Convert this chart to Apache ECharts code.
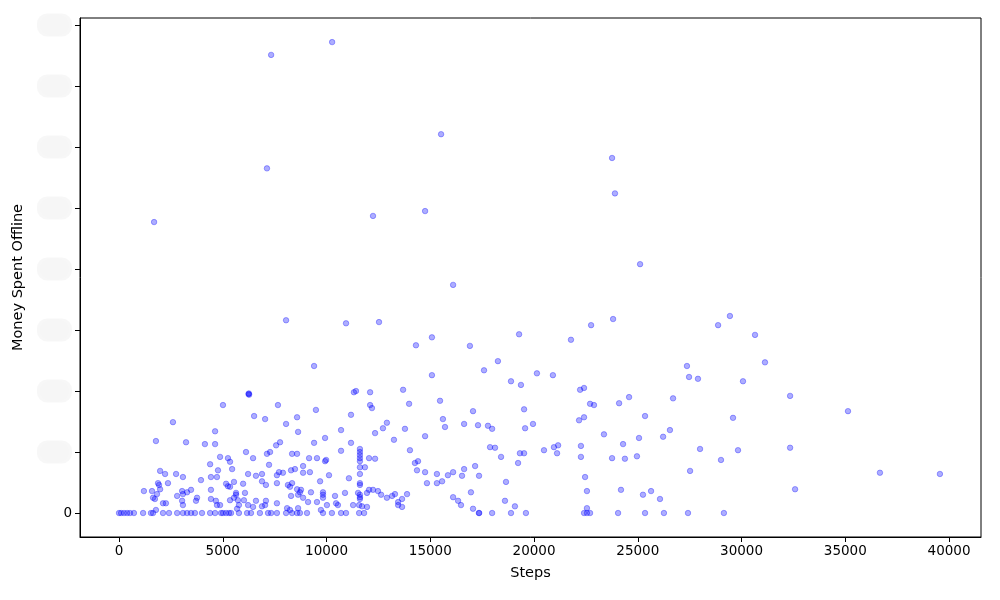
<!DOCTYPE html>
<html>
<head>
<meta charset="utf-8">
<script src="https://cdn.jsdelivr.net/npm/echarts@6/dist/echarts.min.js"></script>
<style>html,body{margin:0;padding:0;background:#fff;}#c{width:1000px;height:600px;}</style>
</head>
<body>
<div id="c"></div>
<script>
// Tick values
const xTicks = [0, 5000, 10000, 15000, 20000, 25000, 30000, 35000, 40000];
const yTicks = [0, 1000, 2000, 3000, 4000, 5000, 6000, 7000, 8000];

// [steps, money spent offline]
const upperPoints = [[10270,7720],[7330,7510],[15520,6210],[23760,5820],[23900,5240],[7130,5650],[1690,4770],[12240,4870],[14750,4950],[25110,4080],[16100,3740]];
const midPoints = [[8050,3160],[10940,3110],[12530,3130],[14310,2750],[15080,2880],[16910,2740],[19280,2930],[21780,2840],[22750,3080],[18260,2490],[17590,2340],[15080,2260],[20140,2290],[20910,2260],[9400,2410]];
const highStepPoints = [[23810,3180],[29440,3230],[28870,3080],[30650,2920],[31130,2470],[27370,2410],[27470,2230],[27900,2200],[30070,2160],[24580,1900],[24100,1800],[26700,1880],[32340,1920],[25350,1590],[29590,1560],[35130,1670],[23370,1290],[26550,1360],[26220,1250],[25060,1230],[24290,1130],[23760,900],[24380,890],[24960,930],[28000,1050],[29830,1030],[32340,1070],[29010,870],[27520,690],[36670,660],[39560,640],[24190,380],[25250,300],[25640,360],[26070,230],[32580,390],[24050,0],[25350,0],[26260,0],[27420,0],[29150,0]];
const bandE = [[6240,1950],[6260,1960],[6270,1940],[5010,1770],[7660,1770],[2600,1490],[6510,1590],[7040,1540],[9490,1690],[8580,1570],[8050,1460],[4630,1340],[8630,1330],[10700,1360],[11320,1980],[11420,2000],[12100,1980],[11180,1610],[12100,1770],[12190,1720],[12340,1310],[9930,1230],[18890,2160],[19370,2100],[22220,2020],[22410,2050],[13690,2020],[13980,1790],[15470,1840],[22700,1790],[22890,1770],[17060,1670],[19520,1700],[22170,1520],[22410,1570],[15610,1540],[15710,1410],[16630,1460],[17300,1440],[17780,1430],[17980,1380],[19570,1390],[19950,1460],[12720,1390],[12910,1480],[13780,1380],[14750,1260],[13250,1200]];
const bandA = [[1780,1180],[3230,1160],[4140,1130],[4630,1130],[6120,1000],[4870,920],[5250,900],[5350,840],[4390,800],[5450,720],[4770,700],[1980,690],[2220,640],[2750,640],[3080,590],[3950,540],[4430,590],[4720,590],[6220,640],[1880,490],[1930,460],[2360,490],[1200,360],[1590,360],[1980,390],[1640,250],[1730,230],[1830,310],[2120,160],[2260,160],[1780,50],[2800,280],[3040,360],[3080,310],[3470,380],[3280,340],[3040,200],[3080,130],[3760,250],[3710,200],[4430,380],[4430,230],[4670,200],[4720,130],[5160,480],[5250,440],[5540,510],[5350,430],[5640,330],[5640,300],[5540,250],[5730,210],[5350,210],[6070,330],[6020,210],[5780,130],[5690,70],[6220,130],[4870,130],[5980,480]];
const bandB = [[6460,900],[7130,970],[7280,1000],[7570,1110],[7760,1160],[8340,970],[8580,970],[9160,900],[9540,900],[9930,850],[9980,870],[9400,1150],[10700,1020],[11180,1150],[11610,1050],[11610,1000],[11610,950],[11610,900],[11610,850],[12050,900],[12340,890],[7230,790],[6600,610],[6890,640],[6890,520],[7080,460],[7610,620],[7610,490],[7710,670],[7900,660],[8290,700],[8480,720],[8870,770],[8870,660],[9200,670],[9690,520],[10120,620],[11080,570],[11610,750],[11610,640],[11850,750],[11610,490],[11610,460],[12050,380],[12240,380],[12480,360],[12630,300],[12910,250],[8140,460],[8240,430],[8340,490],[8580,390],[8720,340],[8630,300],[8770,380],[9250,340],[8290,280],[8870,250],[9830,340],[9830,300],[9830,250],[10410,280],[10890,330],[11520,330],[11610,300],[11610,260],[11610,230],[11950,330],[9540,180],[10020,130],[9730,50],[10460,160],[10550,130],[11280,130],[11570,130],[11710,110],[11950,100],[6600,200],[7080,200],[6890,110],[7040,130],[6460,100],[7610,160],[8100,80],[8240,50],[8630,80],[9110,180]];
const bandC = [[17880,1080],[18120,1070],[14020,1030],[18410,920],[19320,980],[19520,980],[14260,820],[14410,850],[19230,820],[14360,700],[14750,670],[15320,640],[15850,620],[16100,670],[16630,720],[17160,770],[16530,610],[17350,610],[14840,490],[15320,490],[15570,520],[18650,510],[16960,340],[16100,260],[16340,200],[16480,130],[18600,200],[19080,110],[13160,280],[13300,310],[13450,180],[13640,230],[13880,310],[13450,130],[13640,100],[17060,70]];
const bandD = [[20480,1030],[20960,1080],[21160,1110],[21110,980],[22260,1100],[22260,920],[22460,590],[22550,360],[22550,80]];
const zeroSpendSteps = [0,100,240,390,530,720,1160,1540,1640,2120,2410,2800,3080,3280,3470,3660,4000,4390,4630,4920,5010,5160,5300,5400,5780,6170,6360,6790,7180,7330,7610,8050,8340,8580,8720,9060,9830,10260,10700,10940,11570,11810,17340,17360,17980,18890,19610,22410,22550,22700];

const allPoints = [].concat(upperPoints, midPoints, highStepPoints, bandE, bandA, bandB, bandC, bandD, zeroSpendSteps.map(s => [s, 0]));

const font = 'DejaVu Sans';
const chart = echarts.init(document.getElementById('c'), null, {renderer: 'canvas'});
chart.setOption({
  animation: false,
  backgroundColor: '#fff',
  grid: {left: 80, right: 19, top: 18, bottom: 63, show: true, borderColor: '#000', borderWidth: 1, backgroundColor: 'transparent'},
  xAxis: {
    type: 'value', min: -1880, max: 41540,
    name: 'Steps', nameLocation: 'middle', nameGap: 29,
    nameTextStyle: {fontFamily: font, fontSize: 14.5, color: '#000'},
    axisLine: {show: true, onZero: false, lineStyle: {color: '#000', width: 1}},
    axisTick: {show: true, length: 5, lineStyle: {color: '#000'}, customValues: xTicks},
    axisLabel: {fontFamily: font, fontSize: 13.5, color: '#000', margin: 7, customValues: xTicks, formatter: v => String(v)},
    splitLine: {show: false}
  },
  yAxis: {
    type: 'value', min: -393, max: 8115,
    name: 'Money Spent Offline', nameLocation: 'middle', nameGap: 46,
    nameTextStyle: {fontFamily: font, fontSize: 14.5, color: '#000'},
    axisLine: {show: true, onZero: false, lineStyle: {color: '#000', width: 1}},
    axisTick: {show: true, length: 5, lineStyle: {color: '#000'}, customValues: yTicks},
    axisLabel: {
      fontFamily: font, fontSize: 13.5, color: '#000', margin: 8, customValues: yTicks,
      formatter: v => v === 0 ? '{z|0}' : '{b|' + v + '}',
      rich: {
        z: {fontFamily: font, fontSize: 13.5, color: '#000'},
        b: {fontFamily: font, fontSize: 13, color: 'rgba(0,0,0,0)', backgroundColor: 'rgba(0,0,0,0.03)',
            borderRadius: 10, padding: [5, 1], shadowBlur: 16, shadowColor: 'rgba(0,0,0,0.2)'}
      }
    },
    splitLine: {show: false}
  },
  series: [{
    type: 'scatter',
    data: allPoints,
    symbol: 'circle',
    symbolSize: 5.5,
    silent: true,
    itemStyle: {color: '#0000ff', borderColor: '#0000ff', borderWidth: 1, opacity: 0.32}
  }]
});
</script>
</body>
</html>
